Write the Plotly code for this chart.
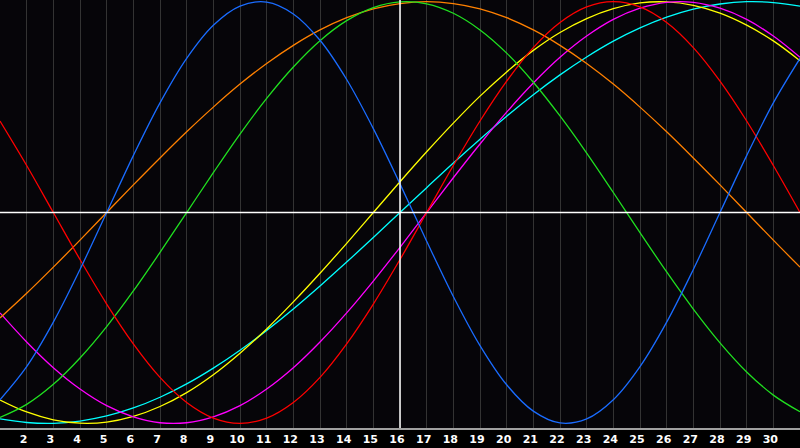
import plotly.graph_objects as go

# days shown on the chart (today = 16)
days = list(range(1, 32))
today = 16

# cycle values, one per day (1..31)
physical = [-0.888, -0.731, -0.520, -0.270, 0.0, 0.270, 0.520, 0.731, 0.888, 0.979,
            0.998, 0.942, 0.817, 0.631, 0.398, 0.136, -0.136, -0.398, -0.631, -0.817,
            -0.942, -0.998, -0.979, -0.888, -0.731, -0.520, -0.270, 0.0, 0.270, 0.520, 0.731]
emotional = [0.434, 0.223, 0.0, -0.223, -0.434, -0.623, -0.782, -0.901, -0.975, -1.0,
             -0.975, -0.901, -0.782, -0.623, -0.434, -0.223, 0.0, 0.223, 0.434, 0.623,
             0.782, 0.901, 0.975, 1.0, 0.975, 0.901, 0.782, 0.623, 0.434, 0.223, 0.0]
intellectual = [-0.972, -0.910, -0.815, -0.690, -0.541, -0.372, -0.189, 0.0, 0.189, 0.372,
                0.541, 0.690, 0.815, 0.910, 0.972, 0.999, 0.990, 0.945, 0.866, 0.756,
                0.618, 0.458, 0.282, 0.095, -0.095, -0.282, -0.458, -0.618, -0.756, -0.866, -0.945]
intuitive = [-0.476, -0.614, -0.736, -0.837, -0.916, -0.969, -0.997, -0.997, -0.969, -0.916,
             -0.837, -0.736, -0.614, -0.476, -0.325, -0.165, 0.0, 0.165, 0.325, 0.476,
             0.614, 0.736, 0.837, 0.916, 0.969, 0.997, 0.997, 0.969, 0.916, 0.837, 0.736]
aesthetic = [-0.889, -0.946, -0.983, -0.999, -0.994, -0.967, -0.920, -0.854, -0.769, -0.667,
             -0.552, -0.424, -0.288, -0.146, 0.0, 0.146, 0.288, 0.424, 0.552, 0.667,
             0.769, 0.854, 0.920, 0.967, 0.994, 0.999, 0.983, 0.946, 0.889, 0.814, 0.720]
awareness = [-0.5, -0.383, -0.259, -0.131, 0.0, 0.131, 0.259, 0.383, 0.5, 0.609,
             0.707, 0.793, 0.866, 0.924, 0.966, 0.991, 1.0, 0.991, 0.966, 0.924,
             0.866, 0.793, 0.707, 0.609, 0.5, 0.383, 0.259, 0.131, 0.0, -0.131, -0.259]
spiritual = [-0.979, -0.996, -1.0, -0.989, -0.965, -0.927, -0.876, -0.813, -0.738, -0.653,
             -0.559, -0.457, -0.348, -0.235, -0.118, 0.0, 0.118, 0.235, 0.348, 0.457,
             0.559, 0.653, 0.738, 0.813, 0.876, 0.927, 0.965, 0.989, 1.0, 0.996, 0.979]

tick_days = list(range(2, 31))
tick_labels = [str(d) for d in tick_days]

series = [
    ("spiritual", spiritual, "#00ffff"),
    ("aesthetic", aesthetic, "#ffff00"),
    ("intuitive", intuitive, "#ff00ff"),
    ("awareness", awareness, "#ff8000"),
    ("intellectual", intellectual, "#20e020"),
    ("emotional", emotional, "#ff0000"),
    ("physical", physical, "#1a6cff"),
]

fig = go.Figure()
for name, vals, col in series:
    fig.add_trace(go.Scatter(x=days, y=vals, name=name, mode="lines",
                             line=dict(color=col, width=1.3, shape="spline", smoothing=1.0)))

# zero line and "today" line
fig.add_hline(y=0, line_color="white", line_width=1.5)
fig.add_vline(x=today, line_color="white", line_width=1.5)

fig.update_layout(
    width=800, height=448,
    margin=dict(l=0, r=0, t=0, b=20, autoexpand=False),
    paper_bgcolor="#000000",
    plot_bgcolor="#060509",
    showlegend=False,
    xaxis=dict(range=[1, 31], tickvals=tick_days, ticktext=tick_labels,
               showgrid=True, gridcolor="#333333", gridwidth=1, zeroline=False,
               showline=True, linecolor="#a0a0a0", linewidth=1.5, mirror=True,
               ticks="", ticklabelshift=-3,
               tickfont=dict(family="DejaVu Sans", size=11, color="white", weight="bold")),
    yaxis=dict(range=[-1.022, 1.008], showgrid=False, zeroline=False,
               showticklabels=False, showline=True, linecolor="#606060",
               linewidth=1.5, mirror=True),
)

# the page has a default body margin; drop it so the chart sits at the corner
fig.write_html("out.html", config={"displayModeBar": False},
               post_script="document.body.style.margin='0';document.body.style.background='#000';")
